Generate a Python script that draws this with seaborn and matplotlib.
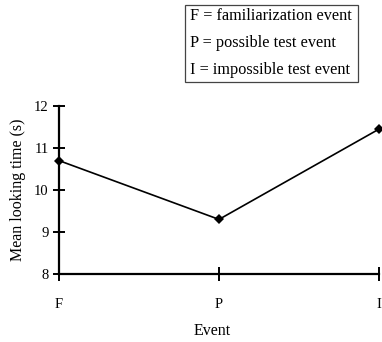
import matplotlib
matplotlib.use("Agg")
import matplotlib.pyplot as plt
import seaborn as sns
import pandas as pd

events = ["F", "P", "I"]
looking_time = [10.7, 9.3, 11.45]
y_ticks = [8, 9, 10, 11, 12]
legend_lines = ["F = familiarization event",
                "P = possible test event",
                "I = impossible test event"]

sns.set_theme(style="white")
plt.rcParams["font.family"] = ["Liberation Serif", "DejaVu Serif"]

df = pd.DataFrame({"Event": events, "Time": looking_time})

fig = plt.figure(figsize=(3.82, 3.42), dpi=100)
ax = fig.add_axes([59 / 382, 1 - 274 / 342, 320 / 382, (274 - 106) / 342])

sns.lineplot(data=df, x="Event", y="Time", sort=False, color="black",
             linewidth=1.2, marker="D", markersize=5, markeredgewidth=0,
             ax=ax, clip_on=False)

ax.set_xlim(0, 2)
ax.set_ylim(8, 12)
ax.set_yticks(y_ticks)
ax.set_yticklabels([str(t) for t in y_ticks])
ax.set_xticks(range(len(events)))
ax.set_xticklabels(events)

for s in ["top", "right"]:
    ax.spines[s].set_visible(False)
for s in ["left", "bottom"]:
    ax.spines[s].set_linewidth(1.6)
    ax.spines[s].set_color("black")

ax.tick_params(axis="y", direction="inout", length=9, width=1.4,
               labelsize=10.5, pad=3, colors="black", left=True)
ax.tick_params(axis="x", direction="inout", length=10, width=1.4,
               labelsize=10.5, pad=12, colors="black", bottom=True)

ax.set_xlabel("Event", fontsize=11.5, color="black")
ax.xaxis.set_label_coords(153 / 320, -49 / 168)
ax.set_ylabel("Mean looking time (s)", fontsize=11.5, color="black")
ax.yaxis.set_label_coords(-33 / 320, 0.5)

# legend-like text box
fig.patches.append(plt.Rectangle((185 / 382, 1 - 82 / 342), 173 / 382, 77 / 342,
                                 transform=fig.transFigure, fill=False,
                                 edgecolor="#444444", linewidth=0.9))
for i, line in enumerate(legend_lines):
    fig.text(190 / 382, 1 - (16 + 27 * i) / 342, line, fontsize=11.7,
             va="center", ha="left", color="black")

fig.savefig("out.png", dpi=100)
